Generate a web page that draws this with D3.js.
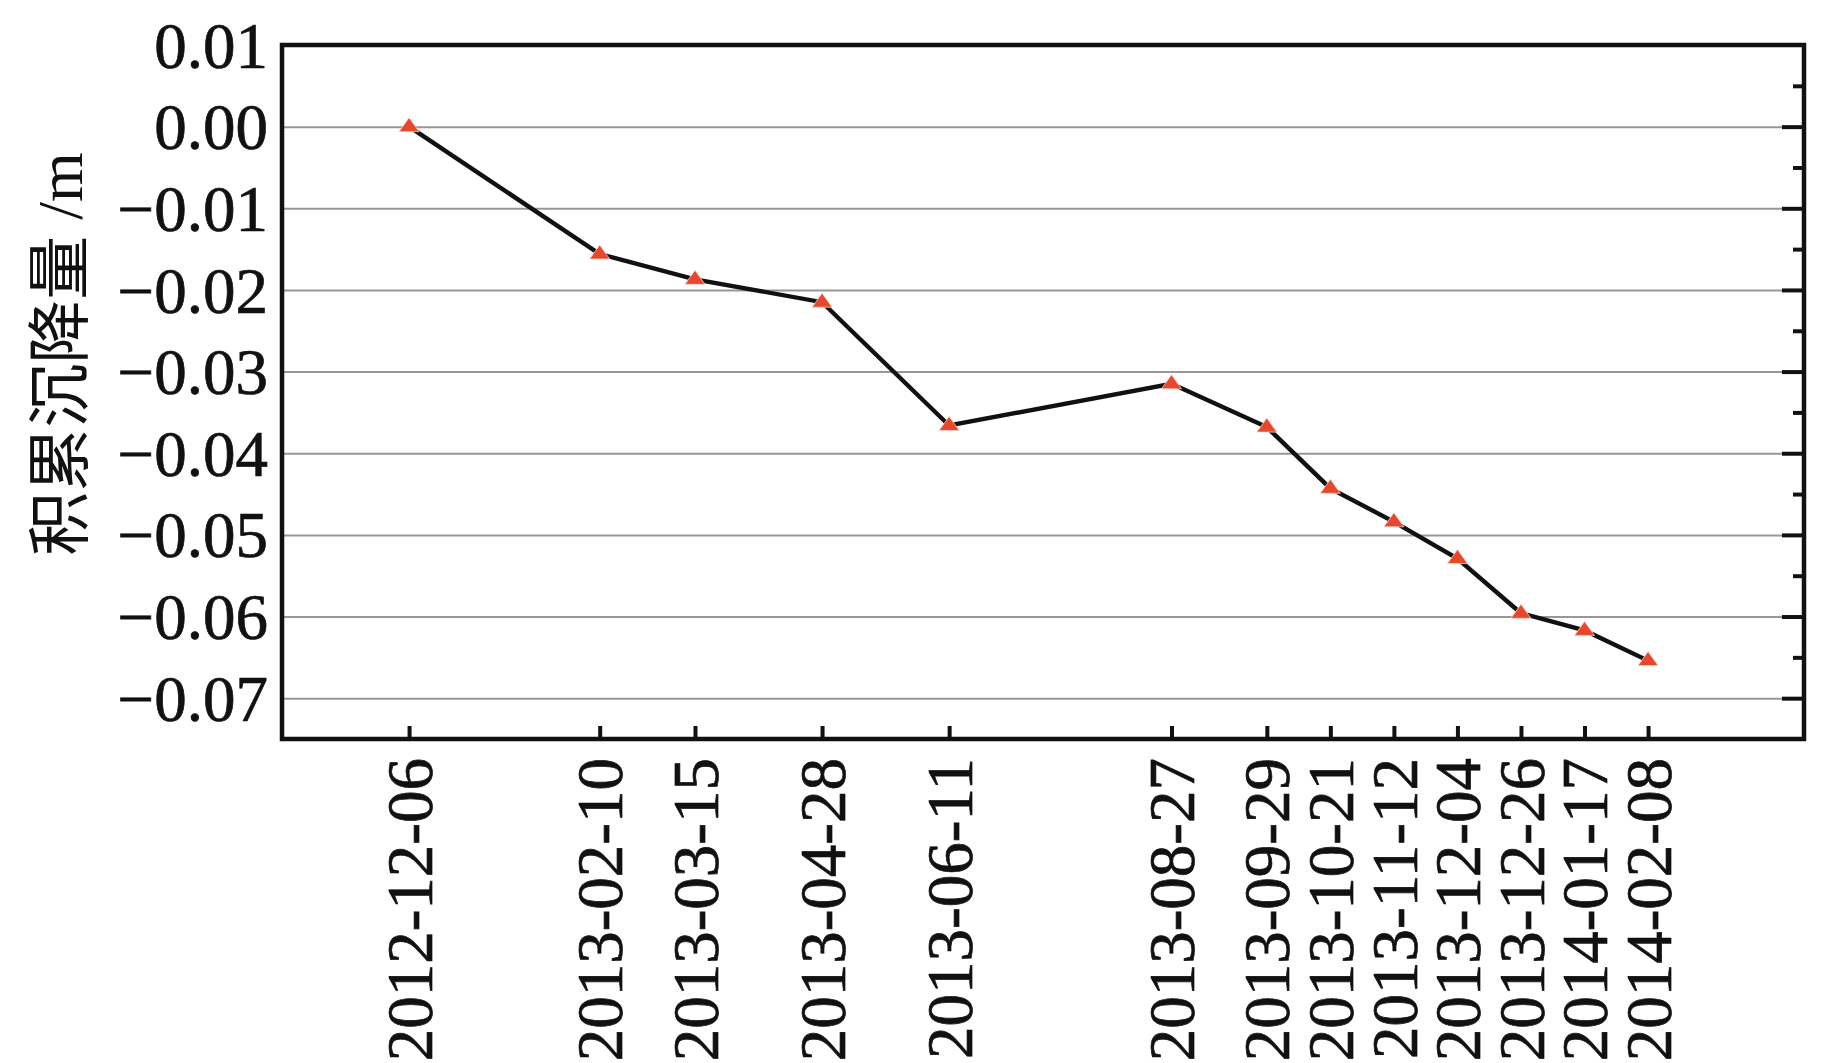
<!doctype html>
<html lang="zh">
<head>
<meta charset="UTF-8">
<title>积累沉降量</title>
<script src="https://d3js.org/d3.v7.min.js"></script>
<style>
  html, body { margin: 0; padding: 0; background: #fff; }
  svg text { font-family: "Liberation Serif", "Times New Roman", "Noto Sans CJK SC", serif; fill: #111; }
</style>
</head>
<body>
<div id="chart"></div>
<script>
  // data
  const dates = ['2012-12-06', '2013-02-10', '2013-03-15', '2013-04-28', '2013-06-11',
    '2013-08-27', '2013-09-29', '2013-10-21', '2013-11-12', '2013-12-04',
    '2013-12-26', '2014-01-17', '2014-02-08'];
  const settlement = [0.0000, -0.0156, -0.0187, -0.0215, -0.0366,
    -0.0315, -0.0368, -0.0443, -0.0484, -0.0529,
    -0.0596, -0.0617, -0.0654];
  const xDomain = ['2012-10-23', '2014-04-03'];
  const yDomain = [-0.075, 0.01];
  const yTicks = [0.01, 0.00, -0.01, -0.02, -0.03, -0.04, -0.05, -0.06, -0.07];
  const yTickLabels = ['0.01', '0.00', '\u22120.01', '\u22120.02', '\u22120.03',
    '\u22120.04', '\u22120.05', '\u22120.06', '\u22120.07'];
  const gridTicks = [0.00, -0.01, -0.02, -0.03, -0.04, -0.05, -0.06, -0.07];
  const minorTicks = [0.005, -0.005, -0.015, -0.025, -0.035, -0.045, -0.055, -0.065];
  const yTitle = '积累沉降量 /m';

  const dimensions = {
    width: 1843,
    height: 1063,
    left: 282,
    right: 1804,
    top: 45,
    bottom: 739
  };

  const parse = d3.utcParse('%Y-%m-%d');
  const dataset = dates.map((d, i) => ({ date: parse(d), value: settlement[i] }));

  const svg = d3.select('#chart')
    .append('svg')
    .attr('width', dimensions.width)
    .attr('height', dimensions.height);

  svg.append('rect')
    .attr('width', dimensions.width)
    .attr('height', dimensions.height)
    .attr('fill', '#fff');

  // Scales
  const xScale = d3.scaleUtc()
    .domain(xDomain.map(parse))
    .range([dimensions.left, dimensions.right]);

  const yScale = d3.scaleLinear()
    .domain(yDomain)
    .range([dimensions.bottom, dimensions.top]);

  // grid lines
  svg.append('g')
    .attr('transform', `translate(${dimensions.left},0)`)
    .call(d3.axisLeft(yScale)
      .tickValues(gridTicks)
      .tickSize(-(dimensions.right - dimensions.left))
      .tickFormat(''))
    .call(g => g.select('.domain').remove())
    .call(g => g.selectAll('line')
      .attr('stroke', '#9b9694')
      .attr('stroke-width', 2));

  // right side ticks (major + minor, pointing inward)
  svg.append('g')
    .attr('transform', `translate(${dimensions.right},0)`)
    .call(d3.axisRight(yScale).tickValues(gridTicks).tickSize(-22).tickFormat(''))
    .call(g => g.select('.domain').remove())
    .call(g => g.selectAll('line').attr('stroke', '#111').attr('stroke-width', 4));

  svg.append('g')
    .attr('transform', `translate(${dimensions.right},0)`)
    .call(d3.axisRight(yScale).tickValues(minorTicks).tickSize(-11).tickFormat(''))
    .call(g => g.select('.domain').remove())
    .call(g => g.selectAll('line').attr('stroke', '#111').attr('stroke-width', 4));

  // left labels
  svg.append('g')
    .attr('transform', `translate(${dimensions.left},0)`)
    .call(d3.axisLeft(yScale)
      .tickValues(yTicks)
      .tickSize(0)
      .tickPadding(14)
      .tickFormat((d, i) => yTickLabels[i]))
    .call(g => g.select('.domain').remove())
    .call(g => g.selectAll('text')
      .attr('font-size', 65)
      .attr('fill', '#111')
      .attr('stroke', '#111')
      .attr('stroke-width', 0.7)
      .attr('dy', '0.34em'));

  // x axis
  svg.append('g')
    .attr('transform', `translate(0,${dimensions.bottom})`)
    .call(d3.axisBottom(xScale)
      .tickValues(dataset.map(d => d.date))
      .tickSizeInner(-13)
      .tickSizeOuter(0)
      .tickFormat(d3.utcFormat('%Y-%m-%d')))
    .call(g => g.select('.domain').remove())
    .call(g => g.selectAll('line').attr('stroke', '#111').attr('stroke-width', 4))
    .call(g => g.selectAll('text')
      .attr('font-size', 65)
      .attr('fill', '#111')
      .attr('stroke', '#111')
      .attr('stroke-width', 0.7)
      .attr('text-anchor', 'end')
      .attr('transform', 'rotate(-90)')
      .attr('x', -19)
      .attr('y', 0)
      .attr('dy', '0.34em'));

  // plot frame
  svg.append('rect')
    .attr('x', dimensions.left)
    .attr('y', dimensions.top)
    .attr('width', dimensions.right - dimensions.left)
    .attr('height', dimensions.bottom - dimensions.top)
    .attr('fill', 'none')
    .attr('stroke', '#111')
    .attr('stroke-width', 4.5);

  // line
  const lineGenerator = d3.line()
    .x(d => xScale(d.date))
    .y(d => yScale(d.value));

  svg.append('path')
    .datum(dataset)
    .attr('d', lineGenerator)
    .attr('fill', 'none')
    .attr('stroke', '#111')
    .attr('stroke-width', 4.4);

  // triangle markers
  svg.append('g')
    .selectAll('path')
    .data(dataset)
    .join('path')
    .attr('transform', d => `translate(${xScale(d.date)},${yScale(d.value)})`)
    .attr('d', 'M0,-9L10,5L-10,5Z')
    .attr('fill', '#e8472b')
    .attr('stroke', '#f6d2c8')
    .attr('stroke-width', 0.8);

  // y title
  svg.append('text')
    .attr('transform', `translate(${59},${354}) rotate(-90)`)
    .attr('text-anchor', 'middle')
    .attr('dy', '0.36em')
    .attr('font-size', 64)
    .text(yTitle);
</script>
</body>
</html>
